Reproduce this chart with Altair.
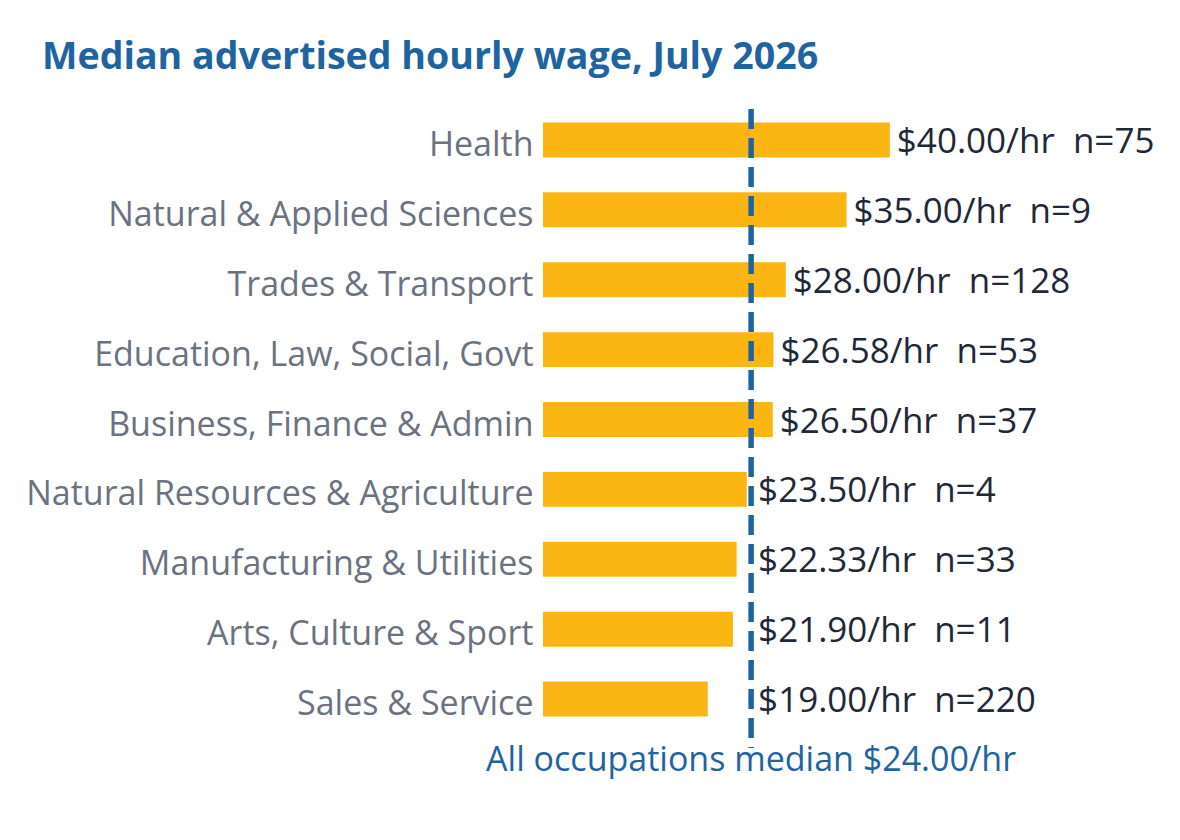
import altair as alt
import pandas as pd

categories = [
    "Health",
    "Natural & Applied Sciences",
    "Trades & Transport",
    "Education, Law, Social, Govt",
    "Business, Finance & Admin",
    "Natural Resources & Agriculture",
    "Manufacturing & Utilities",
    "Arts, Culture & Sport",
    "Sales & Service",
]
wages = [40.00, 35.00, 28.00, 26.58, 26.50, 23.50, 22.33, 21.90, 19.00]
counts = [75, 9, 128, 53, 37, 4, 33, 11, 220]
overall_median = 24.00

BLUE = "#1f64a0"
GOLD = "#fbb614"
FONT = "Open Sans"
FS = 34

df = pd.DataFrame({"category": categories, "wage": wages, "n": counts})
df["label_x"] = df["wage"].clip(lower=overall_median)
df["label"] = [f"${w:.2f}/hr\u00a0\u00a0n={n}" for w, n in zip(wages, counts)]

med = pd.DataFrame({"m": [overall_median], "txt": [f"All occupations median ${overall_median:.2f}/hr"]})

W, H = 607, 629
xscale = alt.Scale(domain=[0, 70], nice=False)
yenc = alt.Y("category:N", sort=categories, title=None,
             scale=alt.Scale(paddingInner=0.5, paddingOuter=0.25),
             axis=alt.Axis(domain=False, ticks=False, labelFont=FONT, labelFontSize=FS,
                           labelColor="#6b7280", labelPadding=10, labelLimit=700,
                           labelBaseline="alphabetic", labelOffset=16))

bars = alt.Chart(df).mark_bar(color=GOLD).encode(
    x=alt.X("wage:Q", scale=xscale, axis=None),
    y=yenc,
)

labels = alt.Chart(df).mark_text(align="left", baseline="alphabetic", dx=7, dy=13,
                                 font=FONT, fontSize=35, color="#1f2937").encode(
    x=alt.X("label_x:Q", scale=xscale),
    y=alt.Y("category:N", sort=categories),
    text="label:N",
)

rule = alt.Chart(med).mark_rule(color=BLUE, strokeWidth=5.5, strokeDash=[20, 9]).encode(
    x=alt.X("m:Q", scale=xscale),
    y=alt.value(4),
    y2=alt.value(H + 14),
)

medtext = alt.Chart(med).mark_text(align="center", baseline="alphabetic", font=FONT,
                                   fontSize=FS, color=BLUE).encode(
    x=alt.X("m:Q", scale=xscale),
    y=alt.value(H + 37),
    text="txt:N",
)

chart = alt.layer(bars, rule, labels, medtext).properties(
    width=W, height=H,
    padding={"left": 535, "top": 97, "right": 20, "bottom": 80},
    autosize=alt.AutoSizeParams(type="none"),
    title=alt.TitleParams(
        "Median advertised hourly wage, July 2026",
        anchor="start", frame="group", dx=-501, offset=28,
        font=FONT, fontSize=37.6, fontWeight=700, color=BLUE,
    ),
).configure(background="white").configure_view(strokeWidth=0, stroke=None)

chart.save("out.html", embed_options={"renderer": "svg", "actions": False})
